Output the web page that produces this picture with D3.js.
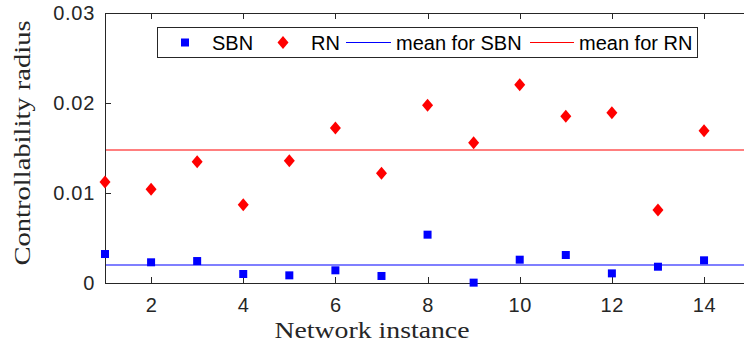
<!DOCTYPE html>
<html>
<head>
<meta charset="utf-8">
<script src="https://cdn.jsdelivr.net/npm/d3@7"></script>
<style>
  html, body { margin: 0; padding: 0; background: #fff; }
  svg { display: block; }
  .tick text { font-family: "Liberation Sans", Arial, Helvetica, sans-serif; font-size: 20px; fill: #262626; letter-spacing: 0.7px; }
</style>
</head>
<body>
<svg id="chart" width="744" height="354"></svg>
<script>
// Network instances and controllability radius per instance
const instances = [1, 2, 3, 4, 5, 6, 7, 8, 9, 10, 11, 12, 13, 14];
const sbnRadius = [0.00322, 0.00230, 0.00244, 0.00100, 0.00085, 0.00141, 0.00078,
                   0.00537, 0.00004, 0.00259, 0.00311, 0.00107, 0.00181, 0.00252];
const rnRadius  = [0.01122, 0.01041, 0.01348, 0.00870, 0.01359, 0.01722, 0.01219,
                   0.01974, 0.01559, 0.02204, 0.01852, 0.01893, 0.00811, 0.01693];
const xTicks = [2, 4, 6, 8, 10, 12, 14];
const yTicks = [0, 0.01, 0.02, 0.03];
const yTickLabels = ["0", "0.01", "0.02", "0.03"];
const legendLabels = ["SBN", "RN", "mean for SBN", "mean for RN"];

const svg = d3.select("#chart");
const W = 744, H = 354;
svg.append("rect").attr("width", W).attr("height", H).attr("fill", "#fff");

const plot = { left: 105, top: 13, bottom: 283 };
const unit = 46.08;
const x = d3.scaleLinear().domain([1, 15]).range([plot.left, plot.left + 14 * unit]);
const y = d3.scaleLinear().domain([0, 0.03]).range([plot.bottom, plot.top]);

const axisColor = "#262626";
const BLUE = "#0000ff", RED = "#ff0000";

// Mean lines (thin, slightly soft)
const meanSBN = d3.mean(sbnRadius), meanRN = d3.mean(rnRadius);
svg.append("line").attr("x1", x(1)).attr("x2", x(15))
  .attr("y1", Math.round(y(meanRN))).attr("y2", Math.round(y(meanRN)))
  .attr("stroke", RED).attr("stroke-width", 1.1);
svg.append("line").attr("x1", x(1)).attr("x2", x(15))
  .attr("y1", Math.round(y(meanSBN))).attr("y2", Math.round(y(meanSBN)))
  .attr("stroke", BLUE).attr("stroke-width", 1.1);

// Axes (ticks point inward, box on all four sides)
function styleAxis(g) {
  g.selectAll("path.domain").attr("stroke", axisColor).attr("shape-rendering", "crispEdges");
  g.selectAll(".tick line").attr("stroke", axisColor).attr("shape-rendering", "crispEdges");
}
svg.append("g").attr("transform", `translate(0,${plot.bottom})`)
  .call(d3.axisBottom(x).tickValues(xTicks).tickSizeInner(-6).tickSizeOuter(0).tickPadding(15).tickFormat(d3.format("d")))
  .call(styleAxis);
svg.append("g").attr("transform", `translate(0,${plot.top})`)
  .call(d3.axisTop(x).tickValues(xTicks).tickSizeInner(-6).tickSizeOuter(0).tickFormat(""))
  .call(styleAxis);
svg.append("g").attr("transform", `translate(${plot.left},0)`)
  .call(d3.axisLeft(y).tickValues(yTicks).tickSizeInner(-6).tickSizeOuter(0).tickPadding(10)
    .tickFormat((d, i) => yTickLabels[i]))
  .call(styleAxis);
svg.append("g").attr("transform", `translate(${x(15)},0)`)
  .call(d3.axisRight(y).tickValues(yTicks).tickSizeInner(-6).tickSizeOuter(0).tickFormat(""))
  .call(styleAxis);

// Markers
const sq = 8, dw = 11, dh = 13;
const diamond = (cx, cy) => `M${cx},${cy - dh / 2}L${cx + dw / 2},${cy}L${cx},${cy + dh / 2}L${cx - dw / 2},${cy}Z`;

svg.append("g").selectAll("rect").data(instances).join("rect")
  .attr("x", (d, i) => x(d) - sq / 2).attr("y", (d, i) => y(sbnRadius[i]) - sq / 2)
  .attr("width", sq).attr("height", sq).attr("fill", BLUE);
svg.append("g").selectAll("path").data(instances).join("path")
  .attr("d", (d, i) => diamond(x(d), y(rnRadius[i]))).attr("fill", RED);

// Axis titles
const serif = '"Liberation Serif", "Times New Roman", serif';
svg.append("text").attr("x", 372).attr("y", 338).attr("text-anchor", "middle")
  .attr("font-family", serif).attr("font-size", 24).attr("fill", axisColor)
  .attr("textLength", 195).attr("lengthAdjust", "spacingAndGlyphs")
  .text("Network instance");
svg.append("text").attr("transform", "translate(30,143) rotate(-90)").attr("text-anchor", "middle")
  .attr("font-family", serif).attr("font-size", 24).attr("fill", axisColor)
  .attr("textLength", 245).attr("lengthAdjust", "spacingAndGlyphs")
  .text("Controllability radius");

// Legend
const lg = svg.append("g");
lg.append("rect").attr("x", 157.5).attr("y", 27.5).attr("width", 540).attr("height", 30)
  .attr("fill", "#fff").attr("stroke", axisColor).attr("stroke-width", 1);
const ly = 42.5;
const sans = '"Liberation Sans", Arial, Helvetica, sans-serif';
lg.append("rect").attr("x", 185 - sq / 2).attr("y", ly - sq / 2).attr("width", sq).attr("height", sq).attr("fill", BLUE);
lg.append("path").attr("d", diamond(283, ly)).attr("fill", RED);
lg.append("line").attr("x1", 346).attr("x2", 391).attr("y1", ly).attr("y2", ly).attr("stroke", BLUE);
lg.append("line").attr("x1", 530).attr("x2", 574).attr("y1", ly).attr("y2", ly).attr("stroke", RED);
const legendX = [212, 311, 396, 579];
lg.selectAll("text").data(legendLabels).join("text")
  .attr("x", (d, i) => legendX[i]).attr("y", ly + 7)
  .attr("font-family", sans).attr("font-size", 20).attr("fill", "#000")
  .text(d => d);
</script>
</body>
</html>
